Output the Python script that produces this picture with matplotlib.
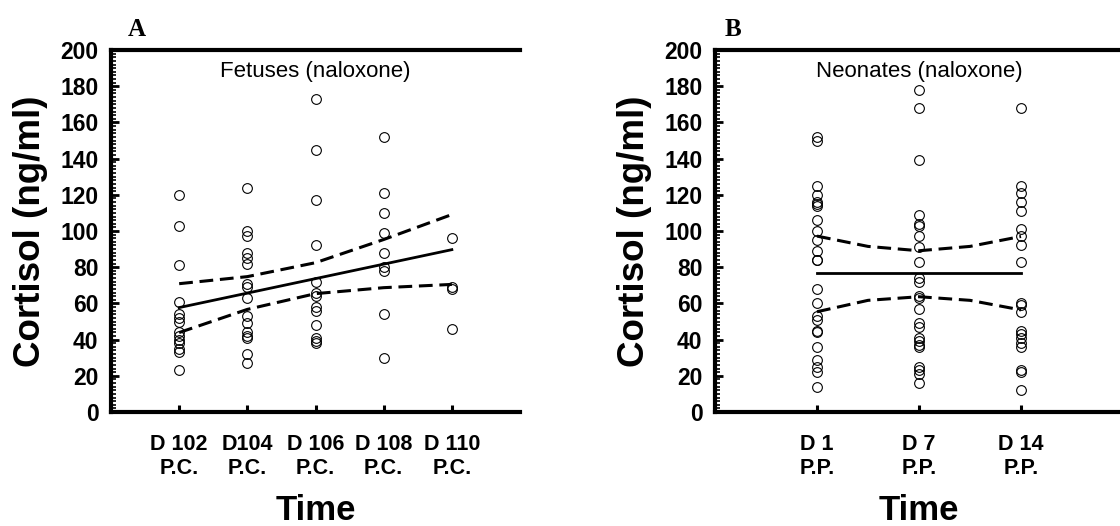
import matplotlib
matplotlib.use("Agg")
import matplotlib.pyplot as plt
from matplotlib.ticker import MultipleLocator

plt.rcParams['font.family'] = ['Liberation Sans', 'DejaVu Sans']

# Panel A: fetuses, cortisol (ng/ml) per sampling day
fet_labels = ["D 102\nP.C.", "D104\nP.C.", "D 106\nP.C.", "D 108\nP.C.", "D 110\nP.C."]
fet_d102 = [120, 103, 81, 61, 54, 52, 50, 44, 42, 40, 38, 35, 33, 23]
fet_d104 = [124, 100, 97, 88, 85, 82, 71, 69, 63, 53, 49, 44, 42, 41, 32, 27]
fet_d106 = [173, 145, 117, 92, 72, 66, 64, 58, 56, 48, 41, 39, 38]
fet_d108 = [152, 121, 110, 99, 88, 80, 78, 54, 30]
fet_d110 = [96, 69, 68, 46]
fet_fit = [57.7, 65.7, 73.7, 81.7, 89.7]
fet_upper = [70.9, 74.8, 82.5, 95.3, 109.1]
fet_lower = [43.9, 56.7, 65.4, 68.7, 70.5]

# Panel B: neonates
neo_labels = ["D 1\nP.P.", "D 7\nP.P.", "D 14\nP.P."]
neo_d1 = [152, 150, 125, 120, 116, 115, 114, 106, 100, 95, 89, 84, 84,
          68, 60, 53, 51, 45, 44, 36, 29, 25, 22, 14]
neo_d7 = [178, 168, 139, 109, 104, 103, 97, 91, 83, 74, 72, 64, 63, 57,
          49, 47, 41, 39, 37, 36, 25, 23, 21, 16]
neo_d14 = [168, 125, 121, 116, 111, 101, 97, 92, 83, 60, 59, 55, 45, 43,
           41, 38, 36, 23, 22, 12]
neo_band_x = [1, 1.5, 2, 2.5, 3]
neo_fit = [76.6, 76.6, 76.6, 76.6, 76.6]
neo_upper = [97.2, 91.5, 89.1, 91.5, 97.0]
neo_lower = [55.4, 61.7, 63.7, 61.7, 56.4]

fig = plt.figure(figsize=(11.2, 5.26), dpi=100)
axA = fig.add_axes([0.0991, 0.2167, 0.3652, 0.6882])
axB = fig.add_axes([0.6384, 0.2167, 0.3643, 0.6882])

mk = dict(ls="none", marker="o", ms=7, mfc="none", mec="black", mew=0.8)
dash = (0, (4.5, 2.2))


def style(ax, n, labels):
    ax.set_ylim(0, 200)
    ax.set_xlim(0, n + 1)
    ax.set_xticks(range(1, n + 1))
    ax.set_xticklabels(labels, fontsize=15.5, fontweight="bold", linespacing=1.15)
    ax.set_yticks(range(0, 201, 20))
    ax.yaxis.set_minor_locator(MultipleLocator(2))
    for lab in ax.get_yticklabels():
        lab.set_fontweight("bold")
        lab.set_fontsize(16.5)
    ax.tick_params(axis="y", which="major", direction="in", length=6, width=2, pad=9)
    ax.tick_params(axis="y", which="minor", direction="in", length=3.5, width=1.2)
    ax.tick_params(axis="x", which="major", direction="in", length=5, width=2.2, pad=16)
    for s in ("left", "bottom", "top"):
        ax.spines[s].set_linewidth(3)
    ax.spines["right"].set_visible(False)
    ax.set_ylabel("Cortisol (ng/ml)", fontsize=26.5, fontweight="bold", labelpad=9)
    ax.set_xlabel("Time", fontsize=25, fontweight="bold", labelpad=11)


fet_groups = [fet_d102, fet_d104, fet_d106, fet_d108, fet_d110]
for i, vals in enumerate(fet_groups):
    axA.plot([i + 1] * len(vals), vals, **mk)
xs = list(range(1, 6))
axA.plot(xs, fet_fit, color="black", lw=2)
axA.plot(xs, fet_upper, color="black", lw=2.2, ls=dash)
axA.plot(xs, fet_lower, color="black", lw=2.2, ls=dash)
style(axA, 5, fet_labels)
axA.text(3, 194, "Fetuses (naloxone)", ha="center", va="top", fontsize=16)
axA.text(0.064, 1.039, "A", transform=axA.transAxes, ha="center", va="baseline",
         fontsize=18, fontweight="bold", family="Liberation Serif")

neo_groups = [neo_d1, neo_d7, neo_d14]
for i, vals in enumerate(neo_groups):
    axB.plot([i + 1] * len(vals), vals, **mk)
axB.plot(neo_band_x, neo_fit, color="black", lw=2)
axB.plot(neo_band_x, neo_upper, color="black", lw=2.2, ls=dash)
axB.plot(neo_band_x, neo_lower, color="black", lw=2.2, ls=dash)
style(axB, 3, neo_labels)
axB.text(2, 194, "Neonates (naloxone)", ha="center", va="top", fontsize=16)
axB.text(0.044, 1.039, "B", transform=axB.transAxes, ha="center", va="baseline",
         fontsize=18, fontweight="bold", family="Liberation Serif")

fig.savefig("out.png", dpi=100)
